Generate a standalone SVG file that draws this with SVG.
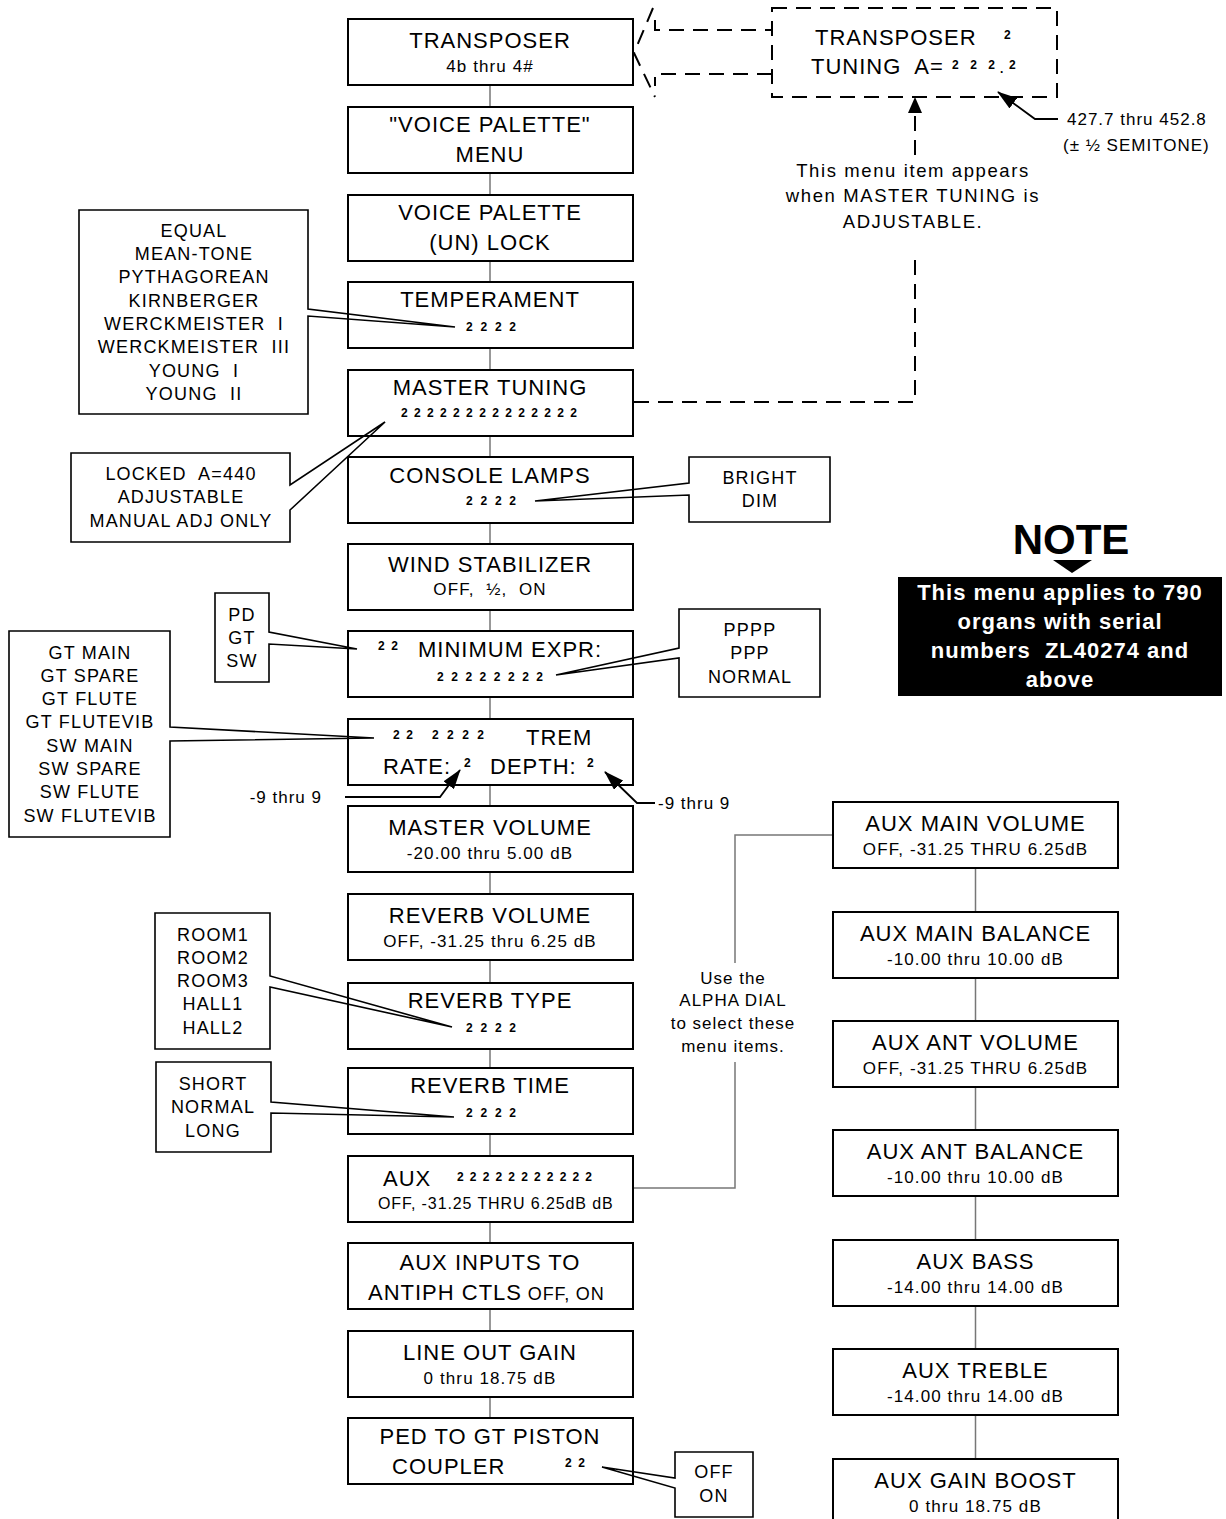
<svg xmlns="http://www.w3.org/2000/svg" width="1226" height="1519" viewBox="0 0 1226 1519">
<defs>
<style>
.box{fill:#fff;stroke:#000;stroke-width:2}
.co{fill:none;stroke:#000;stroke-width:1.6;stroke-linejoin:miter}
.conn{fill:none;stroke:#777;stroke-width:1.5}
.dash{fill:none;stroke:#000;stroke-width:2;stroke-dasharray:15 9}
.arr{fill:none;stroke:#000;stroke-width:1.8}
text{font-family:"Liberation Sans",Arial,Helvetica,sans-serif;fill:#000}
.m{font-size:22px;letter-spacing:1px;text-anchor:middle}
.ms{font-size:22px;letter-spacing:1px}
.s{font-size:17px;letter-spacing:1.1px;text-anchor:middle}
.o{font-size:18px;letter-spacing:1.2px;text-anchor:middle}
.n{font-size:12px;font-weight:bold}
.c{font-size:18.5px;letter-spacing:1.6px;text-anchor:middle}
.l{font-size:17px;letter-spacing:1px}
.note{font-size:42px;font-weight:bold;text-anchor:middle}
.nw{font-size:22px;font-weight:bold;letter-spacing:1px;fill:#fff;text-anchor:middle}
</style>
<marker id="ah" viewBox="0 0 20 13" refX="19" refY="6.5" markerWidth="20" markerHeight="13" markerUnits="userSpaceOnUse" orient="auto">
<path d="M0,0 L20,6.5 L0,13 Z" fill="#000"/>
</marker>
</defs>
<rect width="1226" height="1519" fill="#fff"/>

<g id="transposer-tuning">
<rect x="772" y="8" width="285" height="89" class="dash"/>
<text class="ms" x="815" y="45">TRANSPOSER</text>
<text class="n" x="1004" y="39">2</text>
<text class="ms" x="811" y="74">TUNING&#160; A=</text>
<text class="n" x="952" y="69" textLength="43" lengthAdjust="spacing">2 2 2</text>
<text class="n" x="1000" y="73">.</text>
<text class="n" x="1009" y="69">2</text>
</g>
<g id="tuning-range">
<text class="l" x="1067" y="125">427.7 thru 452.8</text>
<text class="l" x="1063" y="151">(± ½ SEMITONE)</text>
</g>
<g id="tuning-note">
<text class="c" x="913" y="177">This menu item appears</text>
<text class="c" x="913" y="202">when MASTER TUNING is</text>
<text class="c" x="913" y="228">ADJUSTABLE.</text>
</g>

<g id="n-transposer"><rect class="box" x="348" y="19" width="285" height="66"/>
<text class="m" x="490" y="48">TRANSPOSER</text><text class="s" x="490" y="72">4b thru 4#</text></g>
<g id="n-vp-menu"><rect class="box" x="348" y="107" width="285" height="66"/>
<text class="m" x="490" y="132">"VOICE PALETTE"</text><text class="m" x="490" y="162">MENU</text></g>
<g id="n-vp-lock"><rect class="box" x="348" y="195" width="285" height="66"/>
<text class="m" x="490" y="220">VOICE PALETTE</text><text class="m" x="490" y="250">(UN) LOCK</text></g>
<g id="n-temperament"><rect class="box" x="348" y="282" width="285" height="66"/>
<text class="m" x="490" y="307">TEMPERAMENT</text>
<text class="n" x="466" y="331" textLength="50" lengthAdjust="spacing">2 2 2 2</text></g>
<g id="n-master-tuning"><rect class="box" x="348" y="370" width="285" height="66"/>
<text class="m" x="490" y="395">MASTER TUNING</text>
<text class="n" x="401" y="417" textLength="176" lengthAdjust="spacing">2 2 2 2 2 2 2 2 2 2 2 2 2 2</text></g>
<g id="n-console-lamps"><rect class="box" x="348" y="457" width="285" height="66"/>
<text class="m" x="490" y="483">CONSOLE LAMPS</text>
<text class="n" x="466" y="505" textLength="50" lengthAdjust="spacing">2 2 2 2</text></g>
<g id="n-wind"><rect class="box" x="348" y="544" width="285" height="66"/>
<text class="m" x="490" y="572">WIND STABILIZER</text><text class="s" x="490" y="595">OFF,&#160; ½,&#160; ON</text></g>
<g id="n-min-expr"><rect class="box" x="348" y="631" width="285" height="66"/>
<text class="n" x="378" y="650" textLength="20" lengthAdjust="spacing">2 2</text>
<text class="ms" x="418" y="657">MINIMUM EXPR:</text>
<text class="n" x="437" y="681" textLength="106" lengthAdjust="spacing">2 2 2 2 2 2 2 2</text></g>
<g id="n-trem"><rect class="box" x="348" y="719" width="285" height="66"/>
<text class="n" x="393" y="739" textLength="20" lengthAdjust="spacing">2 2</text>
<text class="n" x="432" y="739" textLength="52" lengthAdjust="spacing">2 2 2 2</text>
<text class="ms" x="526" y="745">TREM</text>
<text class="ms" x="383" y="774">RATE:</text>
<text class="n" x="464" y="767">2</text>
<text class="ms" x="490" y="774">DEPTH:</text>
<text class="n" x="587" y="767">2</text></g>
<g id="n-master-volume"><rect class="box" x="348" y="806" width="285" height="66"/>
<text class="m" x="490" y="835">MASTER VOLUME</text><text class="s" x="490" y="859">-20.00 thru 5.00 dB</text></g>
<g id="n-reverb-volume"><rect class="box" x="348" y="894" width="285" height="66"/>
<text class="m" x="490" y="923">REVERB VOLUME</text><text class="s" x="490" y="947">OFF, -31.25 thru 6.25 dB</text></g>
<g id="n-reverb-type"><rect class="box" x="348" y="983" width="285" height="66"/>
<text class="m" x="490" y="1008">REVERB TYPE</text>
<text class="n" x="466" y="1032" textLength="50" lengthAdjust="spacing">2 2 2 2</text></g>
<g id="n-reverb-time"><rect class="box" x="348" y="1068" width="285" height="66"/>
<text class="m" x="490" y="1093">REVERB TIME</text>
<text class="n" x="466" y="1117" textLength="50" lengthAdjust="spacing">2 2 2 2</text></g>
<g id="n-aux"><rect class="box" x="348" y="1156" width="285" height="66"/>
<text class="ms" x="383" y="1186">AUX</text>
<text class="n" x="457" y="1181" textLength="135" lengthAdjust="spacing">2 2 2 2 2 2 2 2 2 2 2</text>
<text x="378" y="1209" font-size="16" letter-spacing="0.9">OFF, -31.25 THRU 6.25dB dB</text></g>
<g id="n-aux-inputs"><rect class="box" x="348" y="1243" width="285" height="66"/>
<text class="m" x="490" y="1270">AUX INPUTS TO</text>
<text class="ms" x="368" y="1300">ANTIPH CTLS<tspan font-size="18" letter-spacing="0.8"> OFF, ON</tspan></text></g>
<g id="n-line-out"><rect class="box" x="348" y="1331" width="285" height="66"/>
<text class="m" x="490" y="1360">LINE OUT GAIN</text><text class="s" x="490" y="1384">0 thru 18.75 dB</text></g>
<g id="n-ped-gt"><rect class="box" x="348" y="1418" width="285" height="66"/>
<text class="m" x="490" y="1444">PED TO GT PISTON</text>
<text class="ms" x="392" y="1474">COUPLER</text>
<text class="n" x="565" y="1467" textLength="20" lengthAdjust="spacing">2 2</text></g>

<g id="n-aux-main-vol"><rect class="box" x="833" y="802" width="285" height="66"/>
<text class="m" x="975.5" y="831">AUX MAIN VOLUME</text><text class="s" x="975.5" y="855">OFF, -31.25 THRU 6.25dB</text></g>
<g id="n-aux-main-bal"><rect class="box" x="833" y="912" width="285" height="66"/>
<text class="m" x="975.5" y="941">AUX MAIN BALANCE</text><text class="s" x="975.5" y="965">-10.00 thru 10.00 dB</text></g>
<g id="n-aux-ant-vol"><rect class="box" x="833" y="1021" width="285" height="66"/>
<text class="m" x="975.5" y="1050">AUX ANT VOLUME</text><text class="s" x="975.5" y="1074">OFF, -31.25 THRU 6.25dB</text></g>
<g id="n-aux-ant-bal"><rect class="box" x="833" y="1130" width="285" height="66"/>
<text class="m" x="975.5" y="1159">AUX ANT BALANCE</text><text class="s" x="975.5" y="1183">-10.00 thru 10.00 dB</text></g>
<g id="n-aux-bass"><rect class="box" x="833" y="1240" width="285" height="66"/>
<text class="m" x="975.5" y="1269">AUX BASS</text><text class="s" x="975.5" y="1293">-14.00 thru 14.00 dB</text></g>
<g id="n-aux-treble"><rect class="box" x="833" y="1349" width="285" height="66"/>
<text class="m" x="975.5" y="1378">AUX TREBLE</text><text class="s" x="975.5" y="1402">-14.00 thru 14.00 dB</text></g>
<g id="n-aux-gain"><rect class="box" x="833" y="1459" width="285" height="70"/>
<text class="m" x="975.5" y="1488">AUX GAIN BOOST</text><text class="s" x="975.5" y="1512">0 thru 18.75 dB</text></g>

<g id="co-temperament">
<path class="co" d="M79,210 H308 V309 L455,327 L308,316 V414 H79 Z"/>
<text class="o" x="194" y="237">EQUAL</text>
<text class="o" x="194" y="260">MEAN-TONE</text>
<text class="o" x="194" y="283">PYTHAGOREAN</text>
<text class="o" x="194" y="307">KIRNBERGER</text>
<text class="o" x="194" y="330">WERCKMEISTER&#160; I</text>
<text class="o" x="194" y="353">WERCKMEISTER&#160; III</text>
<text class="o" x="194" y="377">YOUNG&#160; I</text>
<text class="o" x="194" y="400">YOUNG&#160; II</text>
</g>
<g id="co-tuning">
<path class="co" d="M71,453 H290 V485 L385,422 L290,510 V542 H71 Z"/>
<text class="o" x="181" y="480">LOCKED&#160; A=440</text>
<text class="o" x="181" y="503">ADJUSTABLE</text>
<text class="o" x="181" y="527">MANUAL ADJ ONLY</text>
</g>
<g id="co-lamps">
<path class="co" d="M689,457 H830 V522 H689 V495 L535,501 L689,483 Z"/>
<text class="o" x="760" y="484">BRIGHT</text>
<text class="o" x="760" y="507">DIM</text>
</g>
<g id="co-division">
<path class="co" d="M215,593 H269 V632 L357,649 L269,644 V682 H215 Z"/>
<text class="o" x="242" y="621">PD</text>
<text class="o" x="242" y="644">GT</text>
<text class="o" x="242" y="667">SW</text>
</g>
<g id="co-expr">
<path class="co" d="M679,609 H820 V697 H679 V658 L556,675 L679,648 Z"/>
<text class="o" x="750" y="636">PPPP</text>
<text class="o" x="750" y="659">PPP</text>
<text class="o" x="750" y="683">NORMAL</text>
</g>
<g id="co-trem">
<path class="co" d="M9,631 H170 V727 L374,738 L170,741 V837 H9 Z"/>
<text class="o" x="90" y="659">GT MAIN</text>
<text class="o" x="90" y="682">GT SPARE</text>
<text class="o" x="90" y="705">GT FLUTE</text>
<text class="o" x="90" y="728">GT FLUTEVIB</text>
<text class="o" x="90" y="752">SW MAIN</text>
<text class="o" x="90" y="775">SW SPARE</text>
<text class="o" x="90" y="798">SW FLUTE</text>
<text class="o" x="90" y="822">SW FLUTEVIB</text>
</g>
<g id="trem-ranges">
<text class="l" x="322" y="803" text-anchor="end">-9 thru 9</text>
<text class="l" x="658" y="809">-9 thru 9</text>
</g>
<g id="co-reverb-type">
<path class="co" d="M155,913 H270 V976 L452,1027 L270,987 V1049 H155 Z"/>
<text class="o" x="213" y="941">ROOM1</text>
<text class="o" x="213" y="964">ROOM2</text>
<text class="o" x="213" y="987">ROOM3</text>
<text class="o" x="213" y="1010">HALL1</text>
<text class="o" x="213" y="1034">HALL2</text>
</g>
<g id="co-reverb-time">
<path class="co" d="M156,1062 H271 V1102 L454,1117 L271,1113 V1152 H156 Z"/>
<text class="o" x="213" y="1090">SHORT</text>
<text class="o" x="213" y="1113">NORMAL</text>
<text class="o" x="213" y="1137">LONG</text>
</g>
<g id="co-coupler">
<path class="co" d="M675,1452 H753 V1517 H675 V1488 L602,1467 L675,1478 Z"/>
<text class="o" x="714" y="1478">OFF</text>
<text class="o" x="714" y="1502">ON</text>
</g>
<g id="alpha-dial">
<text class="l" x="733" y="984" text-anchor="middle" letter-spacing="0.9">Use the</text>
<text class="l" x="733" y="1006" text-anchor="middle" letter-spacing="0.9">ALPHA DIAL</text>
<text class="l" x="733" y="1029" text-anchor="middle" letter-spacing="0.9">to select these</text>
<text class="l" x="733" y="1052" text-anchor="middle" letter-spacing="0.9">menu items.</text>
</g>
<g id="note">
<text class="note" x="1071" y="554">NOTE</text>
<polygon points="1053,560 1092,560 1072,573" fill="#000"/>
<rect x="898" y="577" width="324" height="119" fill="#000"/>
<text class="nw" x="1060" y="600">This menu applies to 790</text>
<text class="nw" x="1060" y="629">organs with serial</text>
<text class="nw" x="1060" y="658">numbers&#160; ZL40274 and</text>
<text class="nw" x="1060" y="687">above</text>
</g>

<g id="connectors">
<path class="conn" d="M490,86 V106 M490,174 V194 M490,262 V281 M490,349 V369 M490,437 V456 M490,524 V543 M490,611 V630 M490,698 V718 M490,786 V805 M490,873 V893 M490,961 V982 M490,1050 V1067 M490,1135 V1155 M490,1223 V1242 M490,1310 V1330 M490,1398 V1417"/>
<path class="conn" d="M975.5,869 V911 M975.5,979 V1020 M975.5,1088 V1129 M975.5,1197 V1239 M975.5,1307 V1348 M975.5,1416 V1458"/>
<path class="conn" d="M634,1188 H735 V1062 M735,963 V835 H832"/>
<path class="dash" d="M634,402 H915 V258"/>
<path class="dash" d="M915,155 V113"/>
<polygon points="915,97 908,113 922,113" fill="#000"/>
<path class="dash" d="M655,20 V30 H772"/>
<path class="dash" d="M653,8 L634,53 L655,97"/>
<path class="dash" d="M772,74 H655 V86"/>
<path class="arr" d="M345,797 H440 L460,770" marker-end="url(#ah)"/>
<path class="arr" d="M655,803 H637 L605,772" marker-end="url(#ah)"/>
<path class="arr" d="M1058,119 H1035 L998,92" marker-end="url(#ah)"/>
</g>
</svg>
